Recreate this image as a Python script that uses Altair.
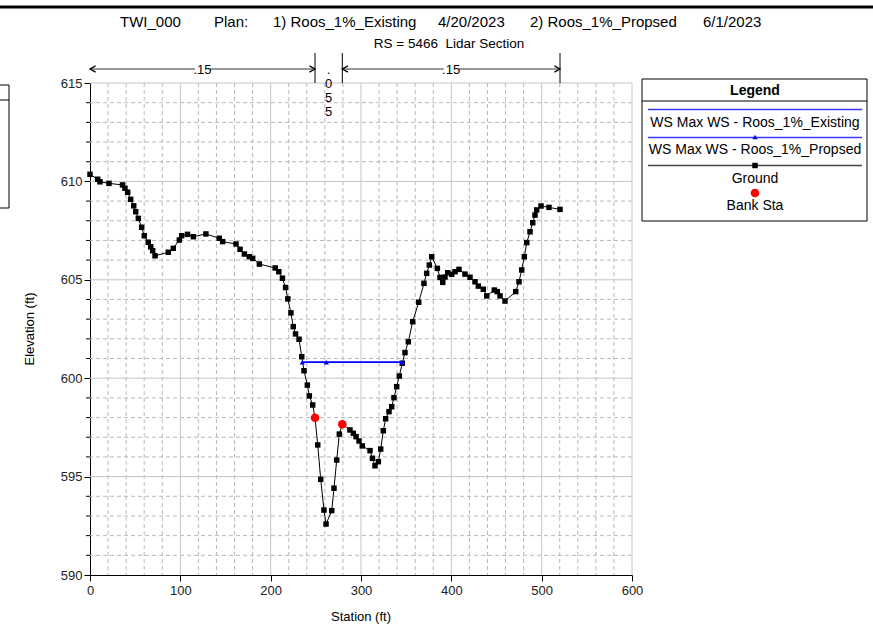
import altair as alt
import pandas as pd

# ---------------- data ----------------
station = [0, 8.5, 11, 21, 36, 38.7, 41.7, 45, 48.4, 50.6, 53.5, 57.2, 60.1, 64.5, 67.2, 69.4, 72,
           86.7, 92.2, 98.9, 101.5, 108, 114.4, 128.3, 143.1, 146.8, 161.6, 166.1, 170.9, 176.4,
           180.1, 187.5, 205, 209, 213, 216.5, 219, 222.4, 225, 227.5, 231.4, 234.4, 236.9, 240.6,
           242.8, 246.5, 249.1, 252.1, 255.4, 259, 261.3, 267.6, 270.1, 273.1, 276, 279.3, 287.8,
           291.5, 294.5, 297.8, 301.4, 310, 312.7, 315.5, 319.2, 321.8, 324.7, 327.3, 331, 334,
           336.5, 339.5, 342.4, 345.7, 348.7, 352.4, 357.2, 363.9, 369.7, 372.7, 375.6, 378.3,
           384.5, 387.5, 390.5, 393, 396, 400.4, 404.1, 408.5, 415.1, 420.7, 426.2, 429.9, 435.4,
           439.2, 447.6, 450.9, 453.9, 459.4, 471.3, 474.9, 477.9, 480.8, 483.5, 487.1, 490.1,
           492.6, 494.5, 499.3, 508.1, 520.3]
elevation = [610.36, 610.11, 609.98, 609.90, 609.82, 609.65, 609.45, 609.09, 608.76, 608.46, 608.12,
             607.67, 607.24, 606.91, 606.68, 606.48, 606.22, 606.40, 606.60, 607.02, 607.24, 607.31,
             607.19, 607.33, 607.11, 606.94, 606.82, 606.55, 606.31, 606.17, 606.09, 605.80, 605.60,
             605.41, 605.08, 604.61, 604.03, 603.32, 602.62, 602.25, 601.98, 601.09, 600.38, 599.65,
             599.10, 598.64, 597.99, 596.61, 594.86, 593.30, 592.59, 593.27, 594.41, 595.84, 597.16,
             597.66, 597.37, 597.20, 597.03, 596.81, 596.56, 596.32, 595.93, 595.55, 595.76, 596.40,
             597.33, 597.94, 598.30, 598.55, 599.01, 599.57, 600.11, 600.76, 601.30, 601.85, 602.87,
             603.86, 604.82, 605.33, 605.75, 606.17, 605.58, 605.12, 604.87, 605.14, 605.36, 605.28,
             605.41, 605.53, 605.29, 605.13, 604.90, 604.68, 604.52, 604.18, 604.48, 604.40, 604.18,
             603.92, 604.40, 604.90, 605.50, 606.17, 606.89, 607.44, 607.90, 608.29, 608.55, 608.75,
             608.68, 608.58]

ws_station = [235.0, 261.6, 345.7]
ws_existing = [600.81, 600.81, 600.81]
ws_propsed = [600.81, 600.81, 600.81]

bank_station = [249.1, 279.3]
bank_elev = [597.99, 597.66]

n_bounds = [0.0, 249.1, 279.3, 520.3]
n_values = [".15", ".055", ".15"]

x_ticks = [0, 100, 200, 300, 400, 500, 600]
y_ticks = [590, 595, 600, 605, 610, 615]
x_minor_step = 20
y_minor_step = 1

title_parts = ["TWI_000", "Plan:", "1) Roos_1%_Existing", "4/20/2023", "2) Roos_1%_Propsed", "6/1/2023"]
subtitle = "RS = 5466\u00a0\u00a0Lidar Section"
x_title = "Station (ft)"
y_title = "Elevation (ft)"
legend_title = "Legend"
legend_labels = ["WS Max WS - Roos_1%_Existing", "WS Max WS - Roos_1%_Propsed", "Ground", "Bank Sta"]

# ---------------- layout ----------------
FONT = "Liberation Sans"
W, H = 542, 492
XD, YD = [0, 600], [590, 615]

minor_x = [v for v in range(XD[0], XD[1] + 1, x_minor_step) if v not in x_ticks]
minor_y = [v for v in range(YD[0], YD[1] + 1, y_minor_step) if v not in y_ticks]

xaxis = alt.Axis(values=x_ticks, grid=False, title=None, labelFont=FONT, labelFontSize=13,
                 labelColor="#222", tickColor="black", domainColor="black", tickSize=6,
                 labelPadding=3, labelFlush=False)
yaxis = alt.Axis(values=y_ticks, grid=False, title=None, labelFont=FONT, labelFontSize=13,
                 labelColor="#222", tickColor="black", domainColor="black", tickSize=6,
                 labelPadding=2, labelFlush=False)


def X(f):
    return alt.X(f"{f}:Q", scale=alt.Scale(domain=XD, nice=False, zero=False), axis=xaxis)


def Y(f):
    return alt.Y(f"{f}:Q", scale=alt.Scale(domain=YD, nice=False, zero=False), axis=yaxis)


dummy = pd.DataFrame({"d": [0]})


def text(t, x, y, size=13, weight="normal", align="center", angle=0, baseline="middle"):
    kw = dict(font=FONT, fontSize=size, fontWeight=weight, align=align, baseline=baseline,
              color="black", text=t)
    if angle:
        kw["angle"] = angle
    return alt.Chart(dummy).mark_text(**kw).encode(x=alt.value(x), y=alt.value(y))


def hrule(x1, x2, y, color="black", width=1):
    return alt.Chart(dummy).mark_rule(color=color, strokeWidth=width).encode(
        x=alt.value(x1), x2=alt.value(x2), y=alt.value(y))


def vrule(x, y1, y2, color="black", width=1):
    return alt.Chart(dummy).mark_rule(color=color, strokeWidth=width).encode(
        x=alt.value(x), y=alt.value(y1), y2=alt.value(y2))


layers = []

# grid
layers.append(alt.Chart(pd.DataFrame({"x": minor_x})).mark_rule(
    color="#b8b8b8", strokeWidth=1, strokeDash=[4, 3]).encode(x=X("x")))
layers.append(alt.Chart(pd.DataFrame({"y": minor_y})).mark_rule(
    color="#b8b8b8", strokeWidth=1, strokeDash=[4, 3]).encode(y=Y("y")))
layers.append(alt.Chart(pd.DataFrame({"x": x_ticks[1:]})).mark_rule(
    color="#c4c4c4", strokeWidth=1).encode(x=X("x")))
layers.append(alt.Chart(pd.DataFrame({"y": y_ticks[1:]})).mark_rule(
    color="#c4c4c4", strokeWidth=1).encode(y=Y("y")))
# minor y ticks
layers.append(alt.Chart(pd.DataFrame({"y": minor_y})).mark_rule(
    color="black", strokeWidth=1).encode(y=Y("y"), x=alt.value(-4), x2=alt.value(0)))

# ground
ground = pd.DataFrame({"x": station, "y": elevation})
layers.append(alt.Chart(ground).mark_line(color="black", strokeWidth=1).encode(x=X("x"), y=Y("y")))
layers.append(alt.Chart(ground).mark_square(color="black", size=30, opacity=1).encode(x=X("x"), y=Y("y")))

# water surfaces
ws1 = pd.DataFrame({"x": ws_station, "y": ws_existing})
ws2 = pd.DataFrame({"x": ws_station, "y": ws_propsed})
layers.append(alt.Chart(ws1).mark_line(color="#0000ff", strokeWidth=1.5).encode(x=X("x"), y=Y("y")))
layers.append(alt.Chart(ws2).mark_line(color="#0000ff", strokeWidth=1.5).encode(x=X("x"), y=Y("y")))
layers.append(alt.Chart(ws2).mark_point(shape="triangle-up", filled=True, color="#0000ff", size=28,
                                        opacity=1).encode(x=X("x"), y=Y("y")))

# bank stations
bank = pd.DataFrame({"x": bank_station, "y": bank_elev})
layers.append(alt.Chart(bank).mark_circle(color="#ff0000", size=75, opacity=1).encode(x=X("x"), y=Y("y")))

# Manning's n annotations above the plot
seg = pd.DataFrame({"x0": [n_bounds[0], n_bounds[2]], "x1": [n_bounds[1], n_bounds[3]],
                    "label": [n_values[0], n_values[2]]})
seg["mid"] = (seg["x0"] + seg["x1"]) / 2
ARROW_Y = -14
layers.append(alt.Chart(seg).mark_rule(color="#333", strokeWidth=1).encode(
    x=X("x0"), x2="x1:Q", y=alt.value(ARROW_Y)))
layers.append(alt.Chart(seg).mark_point(shape="M 1.6 -0.9 L 0 0 L 1.6 0.9", filled=False,
                                        color="black", strokeWidth=1.3, size=49, opacity=1).encode(
    x=X("x0"), y=alt.value(ARROW_Y)))
layers.append(alt.Chart(seg).mark_point(shape="M -1.6 -0.9 L 0 0 L -1.6 0.9", filled=False,
                                        color="black", strokeWidth=1.3, size=49, opacity=1).encode(
    x=X("x1"), y=alt.value(ARROW_Y)))
layers.append(alt.Chart(seg).mark_point(shape="M -1.5 -0.7 L 1.5 -0.7 L 1.5 0.7 L -1.5 0.7 Z",
                                        filled=True, color="white", size=100, opacity=1).encode(
    x=X("mid"), y=alt.value(ARROW_Y)))
layers.append(alt.Chart(seg).mark_text(font=FONT, fontSize=13, color="black", baseline="middle").encode(
    x=X("mid"), y=alt.value(ARROW_Y + 1), text="label:N"))
layers.append(alt.Chart(pd.DataFrame({"x": n_bounds[1:]})).mark_rule(color="black", strokeWidth=1).encode(
    x=X("x"), y=alt.value(-30), y2=alt.value(0)))
mid_n = pd.DataFrame({"x": [(n_bounds[1] + n_bounds[2]) / 2]})
layers.append(alt.Chart(mid_n).mark_text(font=FONT, fontSize=13, color="black", baseline="alphabetic",
                                         lineHeight=14, text=list(n_values[1])).encode(
    x=X("x"), y=alt.value(-9)))

# titles
title_x = [30, 124, 183, 348, 440, 613]
for t, tx in zip(title_parts, title_x):
    layers.append(text(t, tx, -61, size=15, align="left"))
layers.append(text(subtitle, 359, -39, size=13.5))
layers.append(text(x_title, W / 2, 534, size=13))
layers.append(text(y_title, -60, H / 2, size=13, angle=270))

# top thick line and clipped box on the left edge
layers.append(hrule(-90, 783, -76, width=3))
layers.append(hrule(-90, -81, 2))
layers.append(hrule(-90, -81, 17))
layers.append(hrule(-90, -81, 125))
layers.append(vrule(-81, 2, 125))

# legend
LX1, LX2, LY1, LY2 = 552, 777, -4, 138
LC = 665
layers.append(alt.Chart(dummy).mark_rect(fill="white", stroke="black", strokeWidth=1).encode(
    x=alt.value(LX1), x2=alt.value(LX2), y=alt.value(LY1), y2=alt.value(LY2)))
layers.append(hrule(LX1, LX2, 18))
layers.append(text(legend_title, LC, 7.5, size=14, weight="bold"))
layers.append(hrule(558, 772, 26.5, color="#3a3aff", width=1.5))
layers.append(text(legend_labels[0], LC, 39.5, size=14))
layers.append(hrule(558, 772, 54.5, color="#3a3aff", width=1.5))
layers.append(alt.Chart(dummy).mark_point(shape="triangle-up", filled=True, color="#0000ff", size=28,
                                          opacity=1).encode(x=alt.value(LC), y=alt.value(54)))
layers.append(text(legend_labels[1], LC, 67, size=14))
layers.append(hrule(558, 772, 82.5, color="#444", width=1.5))
layers.append(alt.Chart(dummy).mark_square(color="black", size=30, opacity=1).encode(
    x=alt.value(LC), y=alt.value(82.5)))
layers.append(text(legend_labels[2], LC, 95.5, size=14))
layers.append(alt.Chart(dummy).mark_circle(color="#ff0000", size=75, opacity=1).encode(
    x=alt.value(LC), y=alt.value(110)))
layers.append(text(legend_labels[3], LC, 123, size=14))

chart = alt.layer(*layers).properties(
    width=W, height=H,
    padding={"left": 90, "top": 83, "right": 241, "bottom": 52},
    autosize=alt.AutoSizeParams(type="none"),
    background="white",
).configure_view(stroke=None)

chart.save("out.html", embed_options={"renderer": "svg", "actions": False})
